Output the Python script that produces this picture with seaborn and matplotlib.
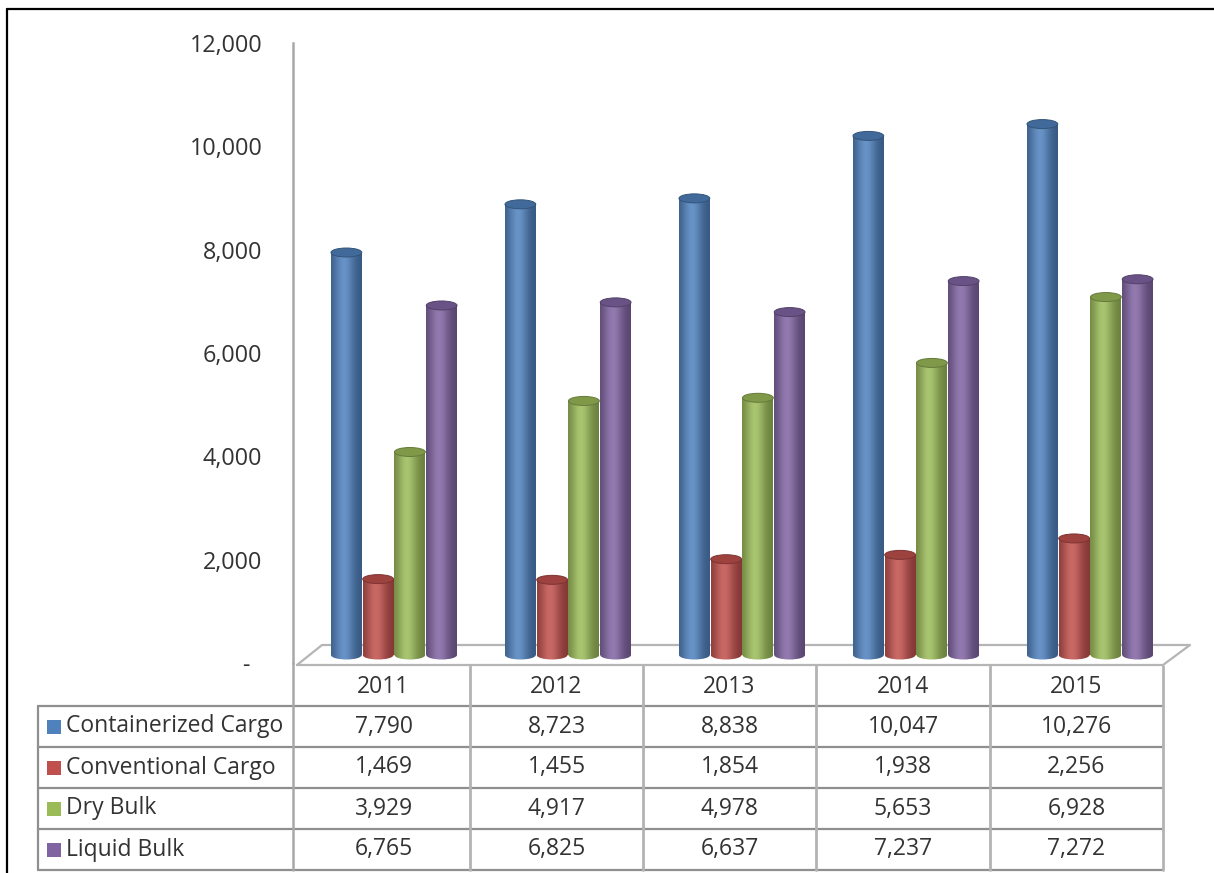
import numpy as np
import pandas as pd
import matplotlib
matplotlib.use("Agg")
import matplotlib.pyplot as plt
import seaborn as sns
from matplotlib.patches import Ellipse, Rectangle
from matplotlib.colors import to_rgb
from matplotlib.ticker import FuncFormatter

# Cargo throughput by type, 2011-2015
years = ["2011", "2012", "2013", "2014", "2015"]
containerized = [7790, 8723, 8838, 10047, 10276]
conventional = [1469, 1455, 1854, 1938, 2256]
dry_bulk = [3929, 4917, 4978, 5653, 6928]
liquid_bulk = [6765, 6825, 6637, 7237, 7272]
series_names = ["Containerized Cargo", "Conventional Cargo", "Dry Bulk", "Liquid Bulk"]
series_values = [containerized, conventional, dry_bulk, liquid_bulk]
colors = ["#4F81BD", "#C0504D", "#9BBB59", "#8064A2"]
y_ticks = [0, 2000, 4000, 6000, 8000, 10000, 12000]

df = pd.DataFrame(
    [(y, name, v) for name, vals in zip(series_names, series_values) for y, v in zip(years, vals)],
    columns=["Year", "Series", "Value"],
)

W, H = 1214, 873
sns.set_theme(style="white")
plt.rcParams["font.family"] = ["Open Sans", "DejaVu Sans"]
TEXT = "#333333"
FS = 16.5

fig = plt.figure(figsize=(W / 100, H / 100), dpi=100)
fig.patch.set_facecolor("white")


def axes_px(x0, y0, x1, y1, **kw):
    return fig.add_axes([x0 / W, 1 - y1 / H, (x1 - x0) / W, (y1 - y0) / H], **kw)


# pixel-space overlay for frame, floor and data table
ov = axes_px(0, 0, W, H, zorder=-1)
ov.set_xlim(0, W)
ov.set_ylim(H, 0)
ov.axis("off")

# outer frame
ov.plot([7, 7], [9, H + 5], color="black", lw=1.6)
ov.plot([7, W + 5], [9, 9], color="black", lw=1.6)

# floor of the plot area
floor_c = "#b5b5b5"
ov.plot([297, 322, 1190, 1163, 297], [665, 645, 645, 665, 665], color=floor_c, lw=1.6)

# value axis
ax = axes_px(293, 43, 1190, 663, zorder=0)
ax.set_facecolor("none")
ax.set_ylim(0, 12000)
ax.set_xlim(0, 1)
ax.set_yticks(y_ticks)
ax.yaxis.set_major_formatter(FuncFormatter(lambda v, p: "-  " if v == 0 else f"{int(v):,}"))
ax.set_xticks([])
for s in ["top", "right", "bottom"]:
    ax.spines[s].set_visible(False)
ax.spines["left"].set_color("#a8a8a8")
ax.spines["left"].set_linewidth(1.8)
ax.tick_params(axis="y", length=0, pad=22, labelsize=16.8, labelcolor=TEXT)

# cylinders
pxu = 620 / 12000
bottom_px = 655 + 300 * pxu
axb = axes_px(307, 35, 1177, bottom_px, zorder=1)
sns.barplot(data=df, x="Year", y="Value", hue="Series", palette=colors,
            width=0.73, gap=0.03, legend=False, ax=axb, saturation=1)
axb.set_ylim(-300, 12000)
axb.set_xlim(-0.5, 4.5)
axb.axis("off")
axb.set_facecolor("none")

t = np.linspace(0, 1, 64)
f = np.exp(-((t - 0.42) / 0.33) ** 2)
eh = 9 / pxu  # cap height in data units

for container, col in zip(axb.containers, colors):
    base = np.array(to_rgb(col))
    dark = base * 0.68
    light = base + (1 - base) * 0.14
    grad = (dark[None, :] * (1 - f[:, None]) + light[None, :] * f[:, None])[None, :, :]
    cap = base * 0.82
    for bar in container:
        x0, w, h = bar.get_x(), bar.get_width(), bar.get_height()
        bar.set_visible(False)
        cx = x0 + w / 2
        # rounded bottom
        bot = Ellipse((cx, 0), w, eh, transform=axb.transData)
        imb = axb.imshow(grad, extent=(x0, x0 + w, -eh, eh), aspect="auto", zorder=2, interpolation="bilinear")
        imb.set_clip_path(bot)
        # body
        body = Rectangle((x0, 0), w, h, transform=axb.transData)
        im = axb.imshow(grad, extent=(x0, x0 + w, 0, h), aspect="auto", zorder=3, interpolation="bilinear")
        im.set_clip_path(body)
        # top cap
        axb.add_patch(Ellipse((cx, h), w, eh, facecolor=cap,
                              edgecolor=base * 0.65, lw=0.7, zorder=4))
axb.set_ylim(-300, 12000)
axb.set_xlim(-0.5, 4.5)

# data table
col_edges = [297, 470, 643, 816, 990, 1163]
row_edges = [666, 706, 747, 788, 829, 870]
label_left = 38
hcol = "#8f8f8f"
vcol = "#b3b3b3"
for yy in row_edges[1:]:
    ov.plot([label_left, col_edges[-1]], [yy, yy], color=hcol, lw=1.6)
ov.plot([label_left, label_left], [row_edges[1], row_edges[-1]], color=hcol, lw=1.6)
ov.plot([293, 293], [663, row_edges[-1]], color="#a8a8a8", lw=1.8)
for xx in col_edges[1:]:
    ov.plot([xx, xx], [row_edges[0], row_edges[-1]], color=vcol, lw=2)

for i, yr in enumerate(years):
    cx = (col_edges[i] + col_edges[i + 1]) / 2
    ov.text(cx, (row_edges[0] + row_edges[1]) / 2 + 1, yr, ha="center", va="center",
            fontsize=FS, color=TEXT)

for r, (name, vals, col) in enumerate(zip(series_names, series_values, colors)):
    yc = (row_edges[r + 1] + row_edges[r + 2]) / 2
    ov.add_patch(Rectangle((47, yc - 7), 14, 14, facecolor=col, edgecolor="none"))
    ov.text(66, yc, name, ha="left", va="center", fontsize=FS, color=TEXT)
    for i, v in enumerate(vals):
        cx = (col_edges[i] + col_edges[i + 1]) / 2
        ov.text(cx, yc, f"{v:,}", ha="center", va="center", fontsize=FS, color=TEXT)

fig.savefig("out.png", dpi=100, facecolor="white")
